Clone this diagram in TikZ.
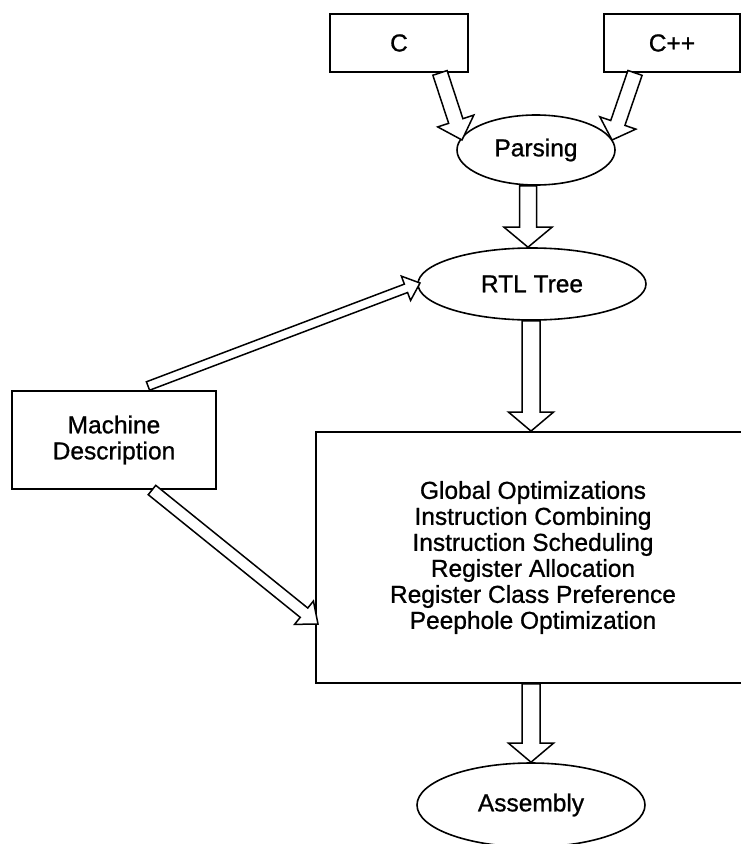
\documentclass[tikz,border=0pt]{standalone}
\usepackage{fontspec}
\setmainfont{Liberation Sans}
\newfontfamily\lblfont[FakeBold=0.9]{Liberation Sans}
\usetikzlibrary{calc,shapes.geometric}

% Hollow block arrow from #1 (tail) to #2 (tip):
% #3 shaft half-width, #4 head half-width, #5 head length
\newcommand\blockarrow[5]{%
  \coordinate (ba-h) at ($(#2)!#5!(#1)$);
  \draw[fatarrow]
    ($(#1)!#3!90:(#2)$) -- ($(ba-h)!#3!-90:(#1)$) -- ($(ba-h)!#4!-90:(#1)$)
    -- (#2) -- ($(ba-h)!#4!90:(#1)$) -- ($(ba-h)!#3!90:(#1)$)
    -- ($(#1)!#3!-90:(#2)$) -- cycle;}

\tikzset{
  lbl/.style={font=\lblfont\fontsize{24.5}{26}\selectfont, align=center, inner sep=0pt},
  box/.style={lbl, draw, line width=1.8pt, rectangle},
  oval/.style={lbl, draw, line width=1.6pt, ellipse},
  fatarrow/.style={draw, fill=white, line width=1.5pt, line join=miter},
}

\begin{document}
\begin{tikzpicture}[x=1pt, y=-1pt]
  \useasboundingbox (0,0) rectangle (741,844);
  \clip (0,0) rectangle (741,844);

  % front ends
  \node[box, minimum width=138pt, minimum height=58pt] (c)   at (399,43) {C};
  \node[box, minimum width=136pt, minimum height=58pt] (cpp) at (672,43) {C++};

  % intermediate stages
  \node[oval, minimum width=158pt, minimum height=70pt] (parse) at (536,150) {Parsing};
  \node[oval, minimum width=228pt, minimum height=72pt] (rtl)   at (532,284) {RTL Tree};

  % target description
  \node[box, minimum width=204pt, minimum height=98pt] (md) at (114,440)
    {Machine\\Description};

  % optimisation passes
  \node[box, minimum width=434pt, minimum height=251pt] (opt) at (533,557.5)
    {Global Optimizations\\Instruction Combining\\Instruction Scheduling\\
     Register Allocation\\Register Class Preference\\Peephole Optimization};

  % output
  \node[oval, minimum width=228pt, minimum height=84pt] (asm) at (531,805) {Assembly};

  % arrow end points
  \coordinate (c-out)   at ($(c.south)+(41,0)$);
  \coordinate (p-in-l)  at (462,140);
  \coordinate (cpp-out) at ($(cpp.south)+(-37,0)$);
  \coordinate (p-in-r)  at (612,140);
  \coordinate (p-out)   at ($(parse.south)+(-8,0)$);
  \coordinate (r-in)    at ($(rtl.north)+(-4,0)$);
  \coordinate (r-side)  at (420,283);
  \coordinate (r-out)   at ($(rtl.south)+(-1,0)$);
  \coordinate (o-in)    at ($(opt.north)+(-2,0)$);
  \coordinate (md-top)  at (148,386);
  \coordinate (md-bot)  at (152,490);
  \coordinate (o-side)  at (318,624);
  \coordinate (o-out)   at ($(opt.south)+(-2,0)$);
  \coordinate (a-in)    at (asm.north);

  % connectors
  \blockarrow{c-out}{p-in-l}{7.5pt}{19pt}{20pt}
  \blockarrow{cpp-out}{p-in-r}{7.5pt}{19pt}{18pt}
  \blockarrow{p-out}{r-in}{8.5pt}{24pt}{20pt}
  \blockarrow{r-out}{o-in}{9pt}{22.5pt}{19pt}
  \blockarrow{o-out}{a-in}{9pt}{22.5pt}{19pt}
  \blockarrow{md-top}{r-side}{4.5pt}{13pt}{15pt}
  \blockarrow{md-bot}{o-side}{6pt}{15pt}{18pt}
\end{tikzpicture}
\end{document}
